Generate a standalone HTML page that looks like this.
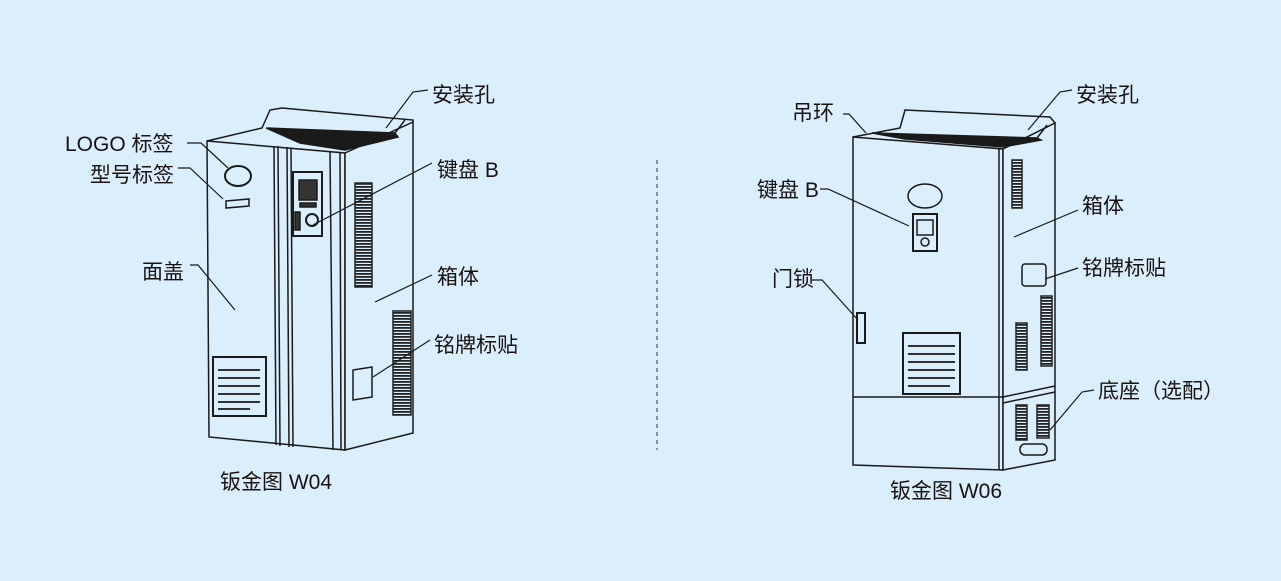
<!DOCTYPE html>
<html><head><meta charset="utf-8"><style>
html,body{margin:0;padding:0;background:#dbeefb;}
svg{display:block}
text{font-family:"Liberation Sans","Noto Sans CJK SC",sans-serif;font-size:21px;fill:#1a1212;}
</style></head><body>
<svg width="1281" height="581" viewBox="0 0 1281 581" xmlns="http://www.w3.org/2000/svg">
<defs>
<pattern id="v" width="6" height="3" patternUnits="userSpaceOnUse"><rect width="6" height="3" fill="#dbeefb"/><rect y="0" width="6" height="1.8" fill="#222"/></pattern>
</defs>
<rect width="1281" height="581" fill="#dbeefb"/>
<g stroke="#1a1a1a" stroke-width="1.5" fill="none">
<!-- LEFT CABINET -->
<polygon points="207,141 345,153 345,450 209,437" fill="#dbeefb"/>
<polygon points="345,153 413,122 413,433 345,450" fill="#dbeefb"/>
<polyline points="207,141 262,128 270,110 282,108 413,120 413,122"/>
<polygon points="266,128 395,133 398,137 345,150 300,143" fill="#1a1a1a"/>
<polyline points="395,133 405,120"/>
<line x1="274" y1="146" x2="276" y2="445"/><line x1="278" y1="146" x2="280" y2="446"/>
<line x1="287" y1="147" x2="289" y2="447"/><line x1="291" y1="148" x2="293" y2="447"/>
<line x1="330" y1="152" x2="333" y2="450"/><line x1="340" y1="153" x2="341" y2="450"/>
<rect x="293" y="172" width="29" height="64" fill="#dbeefb" stroke-width="2"/>
<rect x="299" y="180" width="18" height="20" fill="#333"/>
<rect x="300" y="203" width="16" height="4" fill="#333"/>
<circle cx="312" cy="220" r="6" stroke-width="2"/>
<rect x="295" y="212" width="5" height="18" fill="#333"/>
<rect x="355" y="183" width="17" height="104" fill="url(#v)" stroke="#222"/>
<rect x="393" y="311" width="18" height="104" fill="url(#v)" stroke="#222"/>
<polygon points="353,370 372,367 372,397 353,400"/>
<ellipse cx="238" cy="176" rx="13" ry="10" stroke-width="2"/>
<polygon points="226,201 249,199 249,206 226,208"/>
<rect x="213" y="357" width="53" height="59" fill="#dbeefb" stroke-width="2"/>
<g stroke="#333" stroke-width="2"><line x1="218" y1="370" x2="260" y2="370"/><line x1="218" y1="378" x2="260" y2="378"/><line x1="218" y1="386" x2="260" y2="386"/><line x1="218" y1="394" x2="260" y2="394"/><line x1="218" y1="402" x2="260" y2="402"/><line x1="218" y1="409" x2="250" y2="409"/></g>
<g stroke-width="1.2">
<polyline points="187,143 201,143 228,168"/>
<polyline points="178,168 190,168 223,199"/>
<polyline points="190,265 198,265 235,310"/>
<polyline points="428,90 413,92 386,128"/>
<line x1="432" y1="163" x2="313" y2="225"/>
<line x1="432" y1="275" x2="375" y2="302"/>
<line x1="430" y1="340" x2="373" y2="377"/>
</g>
<line x1="657" y1="160" x2="657" y2="450" stroke="#555" stroke-width="1.2" stroke-dasharray="4,4"/>
<!-- RIGHT CABINET -->
<polygon points="853,137 1003,149 1003,470 853,465" fill="#dbeefb"/>
<polygon points="1003,149 1055,123 1055,460 1003,470" fill="#dbeefb"/>
<polyline points="853,137 900,128 905,110 1050,117 1055,123"/>
<polygon points="872,133 1037,138 1041,140 1003,147 905,139" fill="#1a1a1a"/>
<polyline points="1037,138 1047,125"/>
<line x1="999" y1="149" x2="999" y2="470"/>
<line x1="853" y1="397" x2="1003" y2="397"/>
<line x1="1003" y1="397" x2="1055" y2="386"/>
<line x1="1003" y1="403" x2="1055" y2="392"/>
<ellipse cx="925" cy="196" rx="17" ry="12"/>
<rect x="913" y="214" width="24" height="37" stroke-width="2"/>
<rect x="917" y="220" width="16" height="15"/>
<circle cx="925" cy="242" r="4"/>
<rect x="857" y="313" width="8" height="30" stroke-width="2"/>
<rect x="903" y="333" width="57" height="61" fill="#dbeefb" stroke-width="2"/>
<g stroke="#333" stroke-width="2"><line x1="908" y1="346" x2="955" y2="346"/><line x1="908" y1="354" x2="955" y2="354"/><line x1="908" y1="362" x2="955" y2="362"/><line x1="908" y1="370" x2="955" y2="370"/><line x1="908" y1="378" x2="955" y2="378"/><line x1="908" y1="386" x2="950" y2="386"/></g>
<rect x="1012" y="160" width="10" height="48" fill="url(#v)" stroke="#222"/>
<rect x="1022" y="264" width="24" height="22" rx="3"/>
<rect x="1016" y="323" width="11" height="47" fill="url(#v)" stroke="#222"/>
<rect x="1041" y="296" width="11" height="70" fill="url(#v)" stroke="#222"/>
<rect x="1016" y="405" width="11" height="35" fill="url(#v)" stroke="#222"/>
<rect x="1037" y="405" width="12" height="33" fill="url(#v)" stroke="#222"/>
<rect x="1020" y="444" width="27" height="11" rx="5"/>
<g stroke-width="1.2">
<polyline points="843,114 849,114 866,133"/>
<polyline points="1072,90 1060,92 1028,130"/>
<polyline points="820,189 828,189 909,226"/>
<line x1="1078" y1="210" x2="1014" y2="237"/>
<line x1="1078" y1="268" x2="1045" y2="279"/>
<polyline points="812,280 822,280 858,320"/>
<polyline points="1094,390 1082,392 1050,430"/>
</g>
</g>
<text x="65" y="151">LOGO 标签</text>
<text x="90" y="182">型号标签</text>
<text x="142" y="279">面盖</text>
<text x="432" y="102">安装孔</text>
<text x="437" y="177">键盘 B</text>
<text x="437" y="284">箱体</text>
<text x="434" y="352">铭牌标贴</text>
<text x="220" y="489">钣金图 W04</text>
<text x="792" y="120">吊环</text>
<text x="1076" y="102">安装孔</text>
<text x="757" y="197">键盘 B</text>
<text x="1082" y="213">箱体</text>
<text x="1082" y="275">铭牌标贴</text>
<text x="772" y="286">门锁</text>
<text x="1098" y="398">底座（选配）</text>
<text x="890" y="498">钣金图 W06</text>
</svg>
</body></html>
